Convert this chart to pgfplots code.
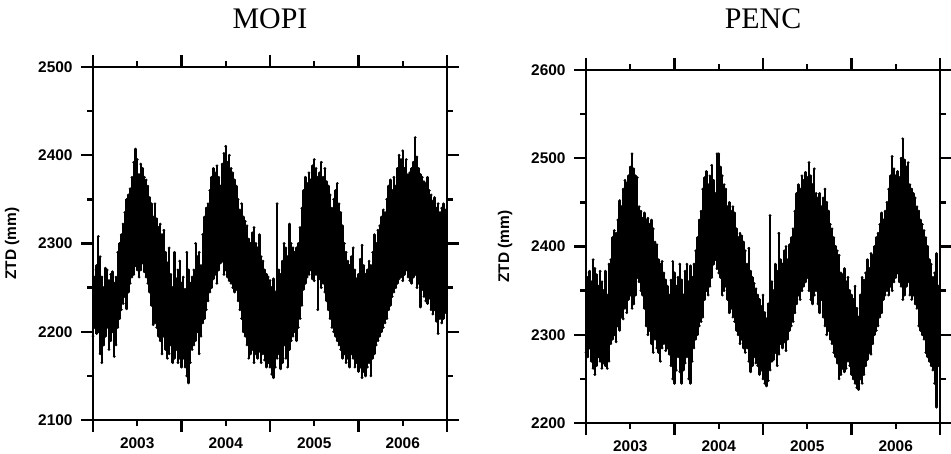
\documentclass[border=0pt]{standalone}
\usepackage{fontspec}
\setmainfont{Liberation Serif}
\newfontfamily\arial{Liberation Sans}
\usepackage{pgfplots}
\usepackage{pgfplotstable}
\pgfplotsset{compat=1.18}

% ZTD envelopes, sampled every 0.02 yr: t, lowest, highest value (mm)
\pgfplotstableread{
t lo hi
2003.00 2195 2270
2003.02 2205 2262
2003.04 2198 2275
2003.06 2200 2308
2003.08 2175 2285
2003.10 2165 2262
2003.12 2185 2250
2003.14 2195 2272
2003.16 2205 2270
2003.18 2180 2258
2003.20 2190 2265
2003.22 2200 2268
2003.24 2172 2255
2003.26 2185 2262
2003.28 2205 2290
2003.30 2215 2300
2003.32 2225 2310
2003.34 2232 2322
2003.36 2240 2335
2003.38 2226 2350
2003.40 2245 2355
2003.42 2255 2362
2003.44 2262 2375
2003.46 2265 2392
2003.48 2275 2407
2003.50 2270 2395
2003.52 2262 2378
2003.54 2270 2390
2003.56 2278 2385
2003.58 2268 2375
2003.60 2262 2372
2003.62 2255 2365
2003.64 2245 2352
2003.66 2230 2345
2003.68 2208 2330
2003.70 2210 2345
2003.72 2205 2328
2003.74 2195 2318
2003.76 2190 2322
2003.78 2175 2310
2003.80 2195 2315
2003.82 2180 2290
2003.84 2170 2278
2003.86 2175 2295
2003.88 2185 2265
2003.90 2165 2250
2003.92 2170 2290
2003.94 2180 2260
2003.96 2165 2270
2003.98 2170 2280
2004.00 2160 2255
2004.02 2170 2262
2004.04 2160 2248
2004.06 2150 2290
2004.08 2142 2270
2004.10 2165 2255
2004.12 2180 2262
2004.14 2185 2270
2004.16 2190 2300
2004.18 2200 2285
2004.20 2175 2290
2004.22 2195 2275
2004.24 2210 2310
2004.26 2215 2330
2004.28 2225 2340
2004.30 2235 2345
2004.32 2245 2360
2004.34 2250 2375
2004.36 2260 2385
2004.38 2265 2380
2004.40 2255 2388
2004.42 2270 2375
2004.44 2278 2365
2004.46 2280 2390
2004.48 2265 2402
2004.50 2270 2410
2004.52 2262 2392
2004.54 2258 2400
2004.56 2255 2385
2004.58 2250 2380
2004.60 2245 2372
2004.62 2248 2365
2004.64 2235 2350
2004.66 2225 2338
2004.68 2215 2345
2004.70 2200 2330
2004.72 2195 2325
2004.74 2185 2320
2004.76 2170 2305
2004.78 2175 2300
2004.80 2180 2312
2004.82 2165 2318
2004.84 2175 2300
2004.86 2170 2295
2004.88 2178 2310
2004.90 2165 2285
2004.92 2175 2280
2004.94 2168 2270
2004.96 2160 2265
2004.98 2165 2262
2005.00 2160 2258
2005.02 2152 2250
2005.04 2148 2260
2005.06 2160 2245
2005.08 2170 2345
2005.10 2175 2270
2005.12 2158 2265
2005.14 2165 2280
2005.16 2185 2300
2005.18 2170 2295
2005.20 2160 2285
2005.22 2180 2322
2005.24 2190 2300
2005.26 2195 2295
2005.28 2200 2290
2005.30 2190 2295
2005.32 2205 2300
2005.34 2215 2318
2005.36 2230 2340
2005.38 2248 2360
2005.40 2255 2375
2005.42 2262 2368
2005.44 2265 2380
2005.46 2270 2372
2005.48 2260 2388
2005.50 2258 2395
2005.52 2265 2385
2005.54 2225 2375
2005.56 2260 2380
2005.58 2250 2392
2005.60 2255 2375
2005.62 2245 2385
2005.64 2235 2370
2005.66 2225 2365
2005.68 2215 2355
2005.70 2205 2340
2005.72 2200 2350
2005.74 2195 2360
2005.76 2190 2368
2005.78 2185 2345
2005.80 2180 2335
2005.82 2170 2320
2005.84 2175 2300
2005.86 2165 2290
2005.88 2170 2280
2005.90 2160 2275
2005.92 2175 2285
2005.94 2170 2295
2005.96 2160 2270
2005.98 2165 2260
2006.00 2155 2265
2006.02 2160 2282
2006.04 2148 2298
2006.06 2155 2275
2006.08 2150 2265
2006.10 2160 2270
2006.12 2165 2280
2006.14 2150 2275
2006.16 2170 2290
2006.18 2175 2310
2006.20 2185 2300
2006.22 2190 2315
2006.24 2195 2320
2006.26 2200 2330
2006.28 2205 2338
2006.30 2210 2335
2006.32 2215 2350
2006.34 2225 2365
2006.36 2230 2372
2006.38 2240 2360
2006.40 2245 2375
2006.42 2250 2365
2006.44 2255 2385
2006.46 2260 2400
2006.48 2262 2395
2006.50 2258 2405
2006.52 2265 2385
2006.54 2270 2395
2006.56 2262 2378
2006.58 2258 2380
2006.60 2255 2385
2006.62 2262 2392
2006.64 2265 2420
2006.66 2250 2398
2006.68 2255 2385
2006.70 2228 2378
2006.72 2248 2375
2006.74 2240 2370
2006.76 2235 2368
2006.78 2232 2375
2006.80 2238 2360
2006.82 2225 2355
2006.84 2220 2348
2006.86 2225 2352
2006.88 2212 2340
2006.90 2198 2345
2006.92 2215 2335
2006.94 2210 2340
2006.96 2215 2345
2006.98 2222 2338
}\mopi

\pgfplotstableread{
t lo hi
2003.00 2280 2370
2003.02 2275 2365
2003.04 2285 2372
2003.06 2270 2360
2003.08 2262 2385
2003.10 2255 2375
2003.12 2265 2368
2003.14 2275 2355
2003.16 2270 2372
2003.18 2262 2360
2003.20 2268 2350
2003.22 2265 2372
2003.24 2262 2345
2003.26 2270 2380
2003.28 2290 2385
2003.30 2295 2410
2003.32 2300 2418
2003.34 2292 2415
2003.36 2310 2430
2003.38 2305 2452
2003.40 2320 2445
2003.42 2318 2465
2003.44 2330 2475
2003.46 2325 2472
2003.48 2340 2480
2003.50 2345 2490
2003.52 2330 2505
2003.54 2335 2488
2003.56 2345 2480
2003.58 2365 2478
2003.60 2360 2445
2003.62 2350 2440
2003.64 2345 2432
2003.66 2330 2438
2003.68 2310 2430
2003.70 2300 2432
2003.72 2305 2425
2003.74 2290 2430
2003.76 2280 2420
2003.78 2295 2405
2003.80 2285 2402
2003.82 2280 2385
2003.84 2270 2380
2003.86 2285 2383
2003.88 2290 2370
2003.90 2282 2362
2003.92 2285 2355
2003.94 2278 2345
2003.96 2265 2362
2003.98 2250 2383
2004.00 2245 2370
2004.02 2260 2355
2004.04 2275 2365
2004.06 2258 2380
2004.08 2245 2362
2004.10 2260 2345
2004.12 2268 2372
2004.14 2275 2380
2004.16 2250 2360
2004.18 2245 2378
2004.20 2270 2365
2004.22 2285 2380
2004.24 2295 2395
2004.26 2300 2410
2004.28 2310 2430
2004.30 2315 2440
2004.32 2320 2465
2004.34 2340 2478
2004.36 2350 2485
2004.38 2345 2470
2004.40 2355 2480
2004.42 2365 2492
2004.44 2380 2475
2004.46 2385 2460
2004.48 2375 2505
2004.50 2370 2505
2004.52 2365 2490
2004.54 2345 2480
2004.56 2350 2470
2004.58 2355 2465
2004.60 2340 2445
2004.62 2325 2450
2004.64 2330 2440
2004.66 2320 2445
2004.68 2315 2438
2004.70 2305 2420
2004.72 2300 2410
2004.74 2290 2415
2004.76 2295 2412
2004.78 2285 2405
2004.80 2280 2395
2004.82 2285 2380
2004.84 2270 2398
2004.86 2258 2372
2004.88 2265 2365
2004.90 2275 2358
2004.92 2268 2352
2004.94 2265 2345
2004.96 2255 2340
2004.98 2260 2332
2005.00 2250 2345
2005.02 2245 2325
2005.04 2242 2318
2005.06 2248 2335
2005.08 2260 2435
2005.10 2270 2360
2005.12 2272 2350
2005.14 2280 2380
2005.16 2265 2372
2005.18 2278 2415
2005.20 2290 2385
2005.22 2285 2380
2005.24 2292 2395
2005.26 2282 2400
2005.28 2295 2385
2005.30 2305 2402
2005.32 2310 2410
2005.34 2315 2420
2005.36 2325 2440
2005.38 2335 2460
2005.40 2345 2470
2005.42 2340 2465
2005.44 2350 2480
2005.46 2355 2475
2005.48 2360 2484
2005.50 2365 2478
2005.52 2350 2495
2005.54 2340 2480
2005.56 2335 2470
2005.58 2345 2488
2005.60 2350 2460
2005.62 2335 2455
2005.64 2325 2460
2005.66 2340 2445
2005.68 2320 2455
2005.70 2310 2465
2005.72 2300 2450
2005.74 2305 2440
2005.76 2295 2425
2005.78 2290 2420
2005.80 2280 2410
2005.82 2275 2400
2005.84 2268 2395
2005.86 2250 2390
2005.88 2255 2370
2005.90 2262 2368
2005.92 2258 2375
2005.94 2262 2360
2005.96 2270 2365
2005.98 2265 2350
2006.00 2255 2345
2006.02 2250 2340
2006.04 2245 2355
2006.06 2240 2330
2006.08 2238 2320
2006.10 2250 2345
2006.12 2245 2365
2006.14 2255 2362
2006.16 2265 2370
2006.18 2272 2385
2006.20 2280 2375
2006.22 2278 2392
2006.24 2290 2390
2006.26 2300 2400
2006.28 2305 2410
2006.30 2310 2415
2006.32 2320 2425
2006.34 2325 2438
2006.36 2340 2430
2006.38 2345 2440
2006.40 2350 2450
2006.42 2345 2465
2006.44 2355 2480
2006.46 2350 2502
2006.48 2360 2488
2006.50 2365 2480
2006.52 2370 2485
2006.54 2360 2478
2006.56 2355 2500
2006.58 2340 2522
2006.60 2345 2498
2006.62 2355 2490
2006.64 2360 2495
2006.66 2345 2470
2006.68 2340 2465
2006.70 2345 2460
2006.72 2335 2455
2006.74 2330 2445
2006.76 2310 2440
2006.78 2305 2430
2006.80 2300 2425
2006.82 2295 2418
2006.84 2280 2410
2006.86 2275 2400
2006.88 2270 2385
2006.90 2265 2380
2006.92 2260 2365
2006.94 2245 2370
2006.96 2218 2392
2006.98 2265 2355
}\penc

\pgfplotsset{
  ztdpanel/.style={
    scale only axis, width=354bp, height=353bp,
    axis line style={line width=2bp},
    tick style={black, line width=2.4bp},
    xtick style={black, line width=2.4bp},
    ytick style={black, line width=2.4bp},
    major tick style={line width=2.4bp},
    minor tick style={line width=2bp},
    tick align=outside,
    major tick length=12bp, minor tick length=6bp,
    xmin=2003, xmax=2007,
    xtick={2003,2004,2005,2006,2007}, xticklabels={},
    minor xtick={2003.5,2004.5,2005.5,2006.5},
    extra x ticks={2003.5,2004.5,2005.5,2006.5},
    extra x tick labels={2003,2004,2005,2006},
    extra x tick style={tick style={draw=none}},
    minor y tick num=1,
    /pgf/number format/1000 sep={},
    /pgf/number format/assume math mode=true,
    tick label style={font=\arial\bfseries\fontsize{15.5}{17}\selectfont},
    xticklabel style={yshift=-2bp},
    yticklabel style={xshift=-5bp},
    ylabel={ZTD (mm)},
    ylabel style={font=\arial\bfseries\fontsize{15.5}{17}\selectfont, yshift=12bp},
    title style={font=\fontsize{30}{32}\selectfont, anchor=base},
  },
  ztdpts/.style={only marks, mark=*, mark size=1.2bp, black,
    error bars/y dir=plus, error bars/y explicit,
    error bars/error mark=*,
    error bars/error bar style={line width=2.3bp, black},
    error bars/error mark options={mark size=1.2bp, black}},
}

\begin{document}
\begin{tikzpicture}
\begin{axis}[ztdpanel, at={(93bp,34bp)}, anchor=south west,
  ymin=2100, ymax=2500, ytick={2100,2200,2300,2400,2500},
  title={MOPI}, title style={yshift=33bp}]
\addplot[ztdpts]
  table[x=t, y=lo, y error plus expr=\thisrow{hi}-\thisrow{lo}] {\mopi};
\end{axis}
\begin{axis}[ztdpanel, at={(586bp,31bp)}, anchor=south west,
  ymin=2200, ymax=2600, ytick={2200,2300,2400,2500,2600},
  title={PENC}, title style={yshift=36bp}]
\addplot[ztdpts]
  table[x=t, y=lo, y error plus expr=\thisrow{hi}-\thisrow{lo}] {\penc};
\end{axis}
\pgfresetboundingbox
\path[use as bounding box] (0,0) rectangle (951bp,454bp);
\end{tikzpicture}
\end{document}
